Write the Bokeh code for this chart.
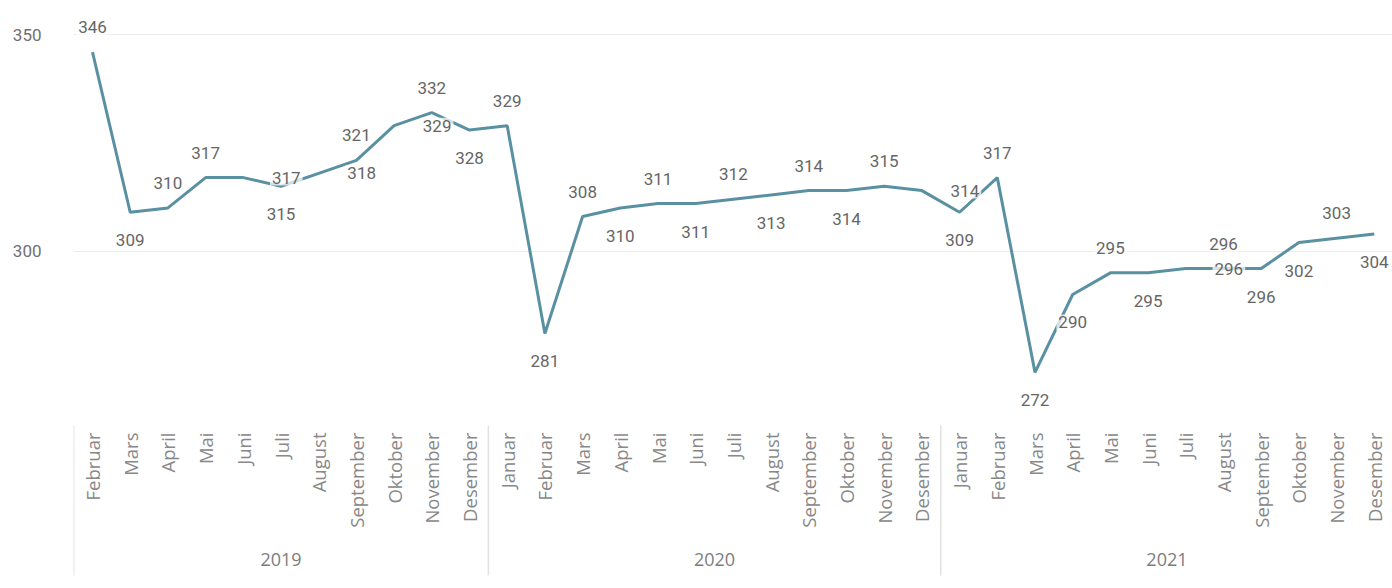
import math
from bokeh.plotting import figure
from bokeh.models import Range1d, FixedTicker, ColumnDataSource
from bokeh.core.properties import value
from bokeh.embed import file_html
from bokeh.resources import INLINE

# ---------------- data ----------------
years = ["2019", "2020", "2021"]
months_2019 = ["Februar", "Mars", "April", "Mai", "Juni", "Juli", "August",
               "September", "Oktober", "November", "Desember"]
months_2020 = ["Januar", "Februar", "Mars", "April", "Mai", "Juni", "Juli", "August",
               "September", "Oktober", "November", "Desember"]
months_2021 = ["Januar", "Februar", "Mars", "April", "Mai", "Juni", "Juli", "August",
               "September", "Oktober", "November", "Desember"]
values_2019 = [346, 309, 310, 317, 317, 315, 318, 321, 329, 332, 328]
values_2020 = [329, 281, 308, 310, 311, 311, 312, 313, 314, 314, 315, 314]
values_2021 = [309, 317, 272, 290, 295, 295, 296, 296, 296, 302, 303, 304]
y_ticks = [300, 350]

# label placement (a = above, b = below, r = right of point)
pos_2019 = ["a", "b", "a", "a", "r", "b", "r", "a", "r", "a", "b"]
pos_2020 = ["a", "b", "a", "b", "a", "b", "a", "b", "a", "b", "a", "r"]
pos_2021 = ["b", "a", "b", "b", "a", "b", "r", "a", "b", "b", "a", "b"]

# ---------------- derived ----------------
months = months_2019 + months_2020 + months_2021
vals = values_2019 + values_2020 + values_2021
pos = pos_2019 + pos_2020 + pos_2021
xs = list(range(len(vals)))

groups = [months_2019, months_2020, months_2021]
starts = []
s = 0
for g in groups:
    starts.append(s)
    s += len(g)

LINE = "#5a91a2"
off_map = {"a": (0, -25), "b": (0, 28), "r": (43, 0)}
dx = [off_map[p][0] for p in pos]
dy = [off_map[p][1] for p in pos]

W, H = 1392, 588
LEFT = 73
PX_PER_UNIT = 4.328
Y0_PX = 250.7  # pixel row of value 300
Y_TOP = 300 + Y0_PX / PX_PER_UNIT
Y_BOT = 300 - (H - Y0_PX) / PX_PER_UNIT
STEP = 37.7
X0_PX = 92.0

def yv(py):
    return 300 - (py - Y0_PX) / PX_PER_UNIT

p = figure(width=W, height=H, output_backend="svg", toolbar_location=None,
           x_range=Range1d((LEFT - X0_PX) / STEP, (W - X0_PX) / STEP),
           y_range=Range1d(Y_BOT, Y_TOP),
           x_axis_location=None, min_border_left=LEFT, min_border_right=0,
           min_border_top=0, min_border_bottom=0)
p.outline_line_color = None
p.background_fill_color = "white"
p.xgrid.visible = False
p.ygrid.ticker = FixedTicker(ticks=y_ticks)
p.ygrid.grid_line_color = "#ebebeb"
p.ygrid.grid_line_width = 1

ax = p.yaxis[0]
ax.ticker = FixedTicker(ticks=y_ticks)
ax.axis_line_color = None
ax.major_tick_line_color = None
ax.minor_tick_line_color = None
ax.major_label_standoff = 26
ax.major_label_text_font = "Roboto"
ax.major_label_text_font_size = "17px"
ax.major_label_text_color = "#707070"

src = ColumnDataSource(dict(x=xs, y=vals, t=[str(v) for v in vals], dx=dx, dy=dy))
p.line("x", "y", source=src, line_color=LINE, line_width=3)
p.text("x", "y", text="t", source=src, x_offset="dx", y_offset="dy",
       text_align="center", text_baseline="middle",
       text_font=value("Roboto"), text_font_size="17px", text_color="#666666",
       background_fill_color="white", background_fill_alpha=0.72, padding=2)

# month labels
p.text(xs, [yv(432)] * len(xs), text=months, angle=math.pi / 2,
       text_align="right", text_baseline="middle",
       text_font=value("Open Sans"), text_font_size="18.5px", text_color="#888888")

# year labels and separators
yc = [st + (len(g) - 1) / 2 for st, g in zip(starts, groups)]
p.text(yc, [yv(559)] * 3, text=years, text_align="center", text_baseline="middle",
       text_font=value("Open Sans"), text_font_size="18px", text_color="#7d7d7d")
sep_x = [st - 0.5 for st in starts]
p.segment(sep_x, [yv(425)] * 3, sep_x, [yv(575)] * 3, line_color="#e2e2e2", line_width=1.5)

open("out.html", "w").write(file_html(p, INLINE))
